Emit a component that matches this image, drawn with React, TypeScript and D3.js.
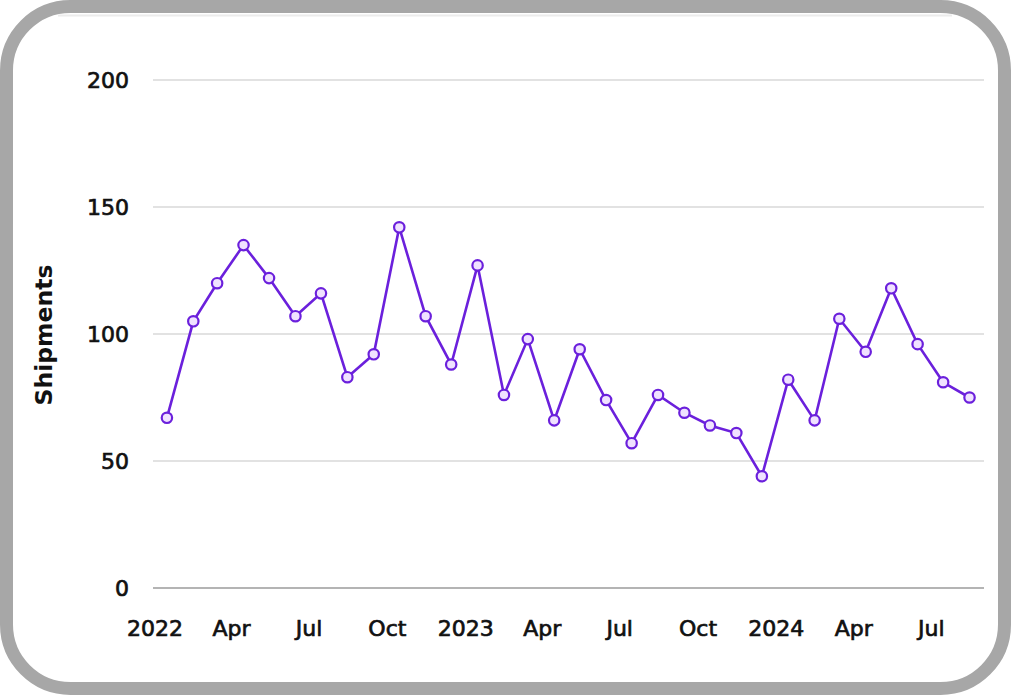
import React from "react";
import * as d3 from "d3";

const months: string[] = [
  "2022-01", "2022-02", "2022-03", "2022-04", "2022-05", "2022-06", "2022-07", "2022-08", "2022-09", "2022-10", "2022-11", "2022-12",
  "2023-01", "2023-02", "2023-03", "2023-04", "2023-05", "2023-06", "2023-07", "2023-08", "2023-09", "2023-10", "2023-11", "2023-12",
  "2024-01", "2024-02", "2024-03", "2024-04", "2024-05", "2024-06", "2024-07", "2024-08",
];
const shipments: number[] = [
  67, 105, 120, 135, 122, 107, 116, 83, 92, 142, 107, 88,
  127, 76, 98, 66, 94, 74, 57, 76, 69, 64, 61, 44,
  82, 66, 106, 93, 118, 96, 81, 75,
];
const yTicks: number[] = [0, 50, 100, 150, 200];
const yLabel = "Shipments";

const W = 1011;
const H = 695;
const FONT = "'DejaVu Sans', sans-serif";
const PURPLE = "#6b20dc";

export default function App() {
  const parse = d3.timeParse("%Y-%m-%d");
  const data = months.map((m, i) => ({ date: parse(m + "-15") as Date, value: shipments[i] }));

  const x = d3
    .scaleTime()
    .domain([new Date(2022, 0, 1), new Date(2024, 8, 1)])
    .range([155, 984]);
  const y = d3.scaleLinear().domain([0, 200]).range([588, 80]);

  const xTicks = x.ticks(d3.timeMonth.every(3) as any);
  const fmt = (d: Date) => (d.getMonth() === 0 ? d3.timeFormat("%Y")(d) : d3.timeFormat("%b")(d));

  const line = d3
    .line<{ date: Date; value: number }>()
    .x((d) => x(d.date))
    .y((d) => y(d.value));

  return (
    <svg
      width={W}
      height={H}
      style={{ position: "fixed", left: 0, top: 0, background: "#fff" }}
    >
      <rect x={6.5} y={6.5} width={W - 13} height={H - 13} rx={64} ry={64} fill="#fff" stroke="#a7a7a7" strokeWidth={13} />
      <line x1={58} x2={952} y1={15.5} y2={15.5} stroke="#ececec" strokeWidth={2} />

      {yTicks.map((t) => (
        <g key={t}>
          <line
            x1={153}
            x2={984}
            y1={y(t)}
            y2={y(t)}
            stroke={t === 0 ? "#b4b4b4" : "#e2e2e2"}
            strokeWidth={2}
          />
          <text
            x={129}
            y={y(t)}
            dy="0.36em"
            textAnchor="end"
            fontFamily={FONT}
            fontSize={22}
            fill="#111"
            stroke="#111"
            strokeWidth={0.7}
          >
            {t}
          </text>
        </g>
      ))}

      {xTicks.map((t) => (
        <text
          key={+t}
          x={x(t)}
          y={636}
          textAnchor="middle"
          fontFamily={FONT}
          fontSize={22}
          fill="#111"
          stroke="#111"
          strokeWidth={0.7}
        >
          {fmt(t)}
        </text>
      ))}

      <text
        transform={`translate(52,335) rotate(-90)`}
        textAnchor="middle"
        fontFamily={FONT}
        fontSize={23.5}
        fontWeight="bold"
        fill="#111"
      >
        {yLabel}
      </text>

      <path d={line(data) || ""} fill="none" stroke={PURPLE} strokeWidth={2.6} />
      {data.map((d, i) => (
        <circle key={i} cx={x(d.date)} cy={y(d.value)} r={5.2} fill="#f0e2ff" stroke={PURPLE} strokeWidth={2.2} />
      ))}
    </svg>
  );
}
